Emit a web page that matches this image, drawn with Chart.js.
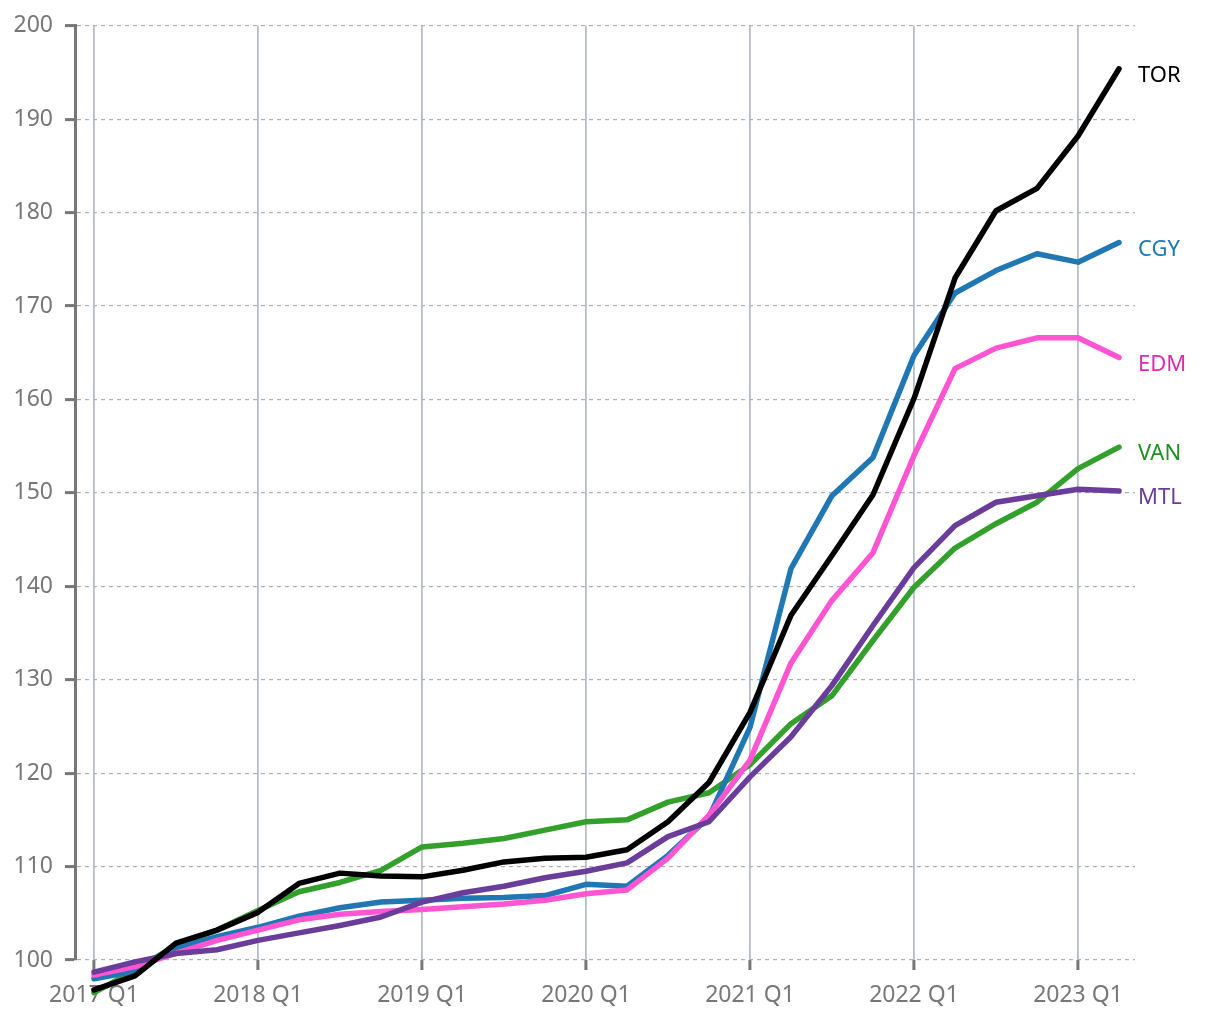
<!DOCTYPE html>
<html>
<head>
<meta charset="utf-8">
<script src="https://cdn.jsdelivr.net/npm/chart.js@4/dist/chart.umd.min.js"></script>
<style>
  body { margin: 0; background: #fff; }
  #wrap { width: 1220px; height: 1020px; }
</style>
</head>
<body>
<div id="wrap"><canvas id="grafico" width="1220" height="1020"></canvas></div>
<script>
// quarters, 2017 Q1 .. 2023 Q2
const quarters = [
  '2017 Q1', '2017 Q2', '2017 Q3', '2017 Q4',
  '2018 Q1', '2018 Q2', '2018 Q3', '2018 Q4',
  '2019 Q1', '2019 Q2', '2019 Q3', '2019 Q4',
  '2020 Q1', '2020 Q2', '2020 Q3', '2020 Q4',
  '2021 Q1', '2021 Q2', '2021 Q3', '2021 Q4',
  '2022 Q1', '2022 Q2', '2022 Q3', '2022 Q4',
  '2023 Q1', '2023 Q2'
];
const yearTicks = [0, 4, 8, 12, 16, 20, 24];
const yTicks = [100, 110, 120, 130, 140, 150, 160, 170, 180, 190, 200];

const tor = [96.8, 98.3, 101.8, 103.2, 105.1, 108.2, 109.3, 109.0, 108.9, 109.6, 110.5, 110.9, 111.0, 111.8, 114.8, 119.0,
             126.5, 136.9, 143.3, 149.8, 160.1, 173.0, 180.2, 182.6, 188.2, 195.4];
const cgy = [98.0, 98.8, 101.3, 102.5, 103.5, 104.7, 105.6, 106.2, 106.4, 106.6, 106.7, 106.9, 108.1, 107.9, 111.2, 115.3,
             124.9, 141.9, 149.7, 153.8, 164.7, 171.4, 173.8, 175.6, 174.7, 176.8];
const edm = [98.4, 99.3, 100.7, 102.1, 103.2, 104.3, 104.9, 105.2, 105.4, 105.7, 106.0, 106.4, 107.1, 107.5, 110.9, 115.5,
             121.4, 131.8, 138.5, 143.6, 154.0, 163.3, 165.5, 166.6, 166.6, 164.5];
const van = [96.5, 98.9, 101.6, 103.2, 105.3, 107.3, 108.3, 109.6, 112.1, 112.5, 113.0, 113.9, 114.8, 115.0, 116.9, 117.9,
             120.9, 125.3, 128.3, 134.2, 139.9, 144.1, 146.7, 149.0, 152.6, 154.9];
const mtl = [98.7, 99.8, 100.7, 101.1, 102.1, 102.9, 103.7, 104.6, 106.2, 107.2, 107.9, 108.8, 109.5, 110.4, 113.2, 114.8,
             119.6, 123.9, 129.4, 135.8, 142.0, 146.5, 149.0, 149.7, 150.4, 150.2];

const FONTE = '"Noto Sans", "Open Sans", sans-serif';

function serie(nome, valores, cor, corTexto) {
    return {
        label: nome,
        data: valores.map((v, i) => ({ x: i, y: v })),
        borderColor: cor,
        textColor: corTexto,
        borderWidth: 5.5,
        borderCapStyle: 'round',
        borderJoinStyle: 'round',
        pointRadius: 0,
        tension: 0,
        clip: false
    };
}

// rótulos no fim de cada linha
const rotulosFinais = {
    id: 'rotulosFinais',
    afterDatasetsDraw(chart) {
        const ctx = chart.ctx;
        ctx.save();
        ctx.font = '22px ' + FONTE;
        ctx.textAlign = 'left';
        ctx.textBaseline = 'middle';
        chart.data.datasets.forEach((ds, i) => {
            const meta = chart.getDatasetMeta(i);
            const p = meta.data[meta.data.length - 1];
            ctx.fillStyle = ds.textColor;
            ctx.fillText(ds.label, p.x + 19, p.y + 7);
        });
        ctx.restore();
    }
};

new Chart(document.getElementById('grafico'), {
    type: 'line',
    data: {
        datasets: [
            serie('TOR', tor, '#000000', '#000000'),
            serie('MTL', mtl, '#6a3d9a', '#6a3d9a'),
            serie('EDM', edm, '#ff55d2', '#e02aae'),
            serie('CGY', cgy, '#1f77b4', '#1f77b4'),
            serie('VAN', van, '#33a02c', '#1f8f1f')
        ]
    },
    options: {
        responsive: false,
        animation: false,
        layout: { padding: { top: 25, right: 85, left: 0, bottom: 0 } },
        plugins: {
            legend: { display: false },
            tooltip: { enabled: false }
        },
        scales: {
            x: {
                type: 'linear',
                min: -0.463,
                max: 25.39,
                afterBuildTicks: (scale) => {
                    scale.ticks = yearTicks.map(v => ({ value: v }));
                },
                afterFit: (scale) => { scale.height = 60; },
                ticks: {
                    color: '#777777',
                    font: { family: FONTE, size: 23 },
                    padding: 12,
                    maxRotation: 0,
                    autoSkip: false,
                    callback: (v) => quarters[v]
                },
                grid: {
                    color: '#b4bec8',
                    lineWidth: 1.8,
                    tickColor: '#777777',
                    tickWidth: 3,
                    tickLength: 10
                },
                border: { display: false }
            },
            y: {
                min: 100,
                max: 200,
                afterBuildTicks: (scale) => {
                    scale.ticks = yTicks.map(v => ({ value: v }));
                },
                afterFit: (scale) => { scale.width = 75; },
                ticks: {
                    color: '#777777',
                    font: { family: FONTE, size: 23 },
                    padding: 12
                },
                grid: {
                    color: '#a8b0b8',
                    lineWidth: 1.2,
                    tickColor: '#777777',
                    tickWidth: 3,
                    tickLength: 10
                },
                border: {
                    display: true,
                    color: '#777777',
                    width: 3,
                    dash: [4, 4]
                }
            }
        }
    },
    plugins: [rotulosFinais]
});
</script>
</body>
</html>
